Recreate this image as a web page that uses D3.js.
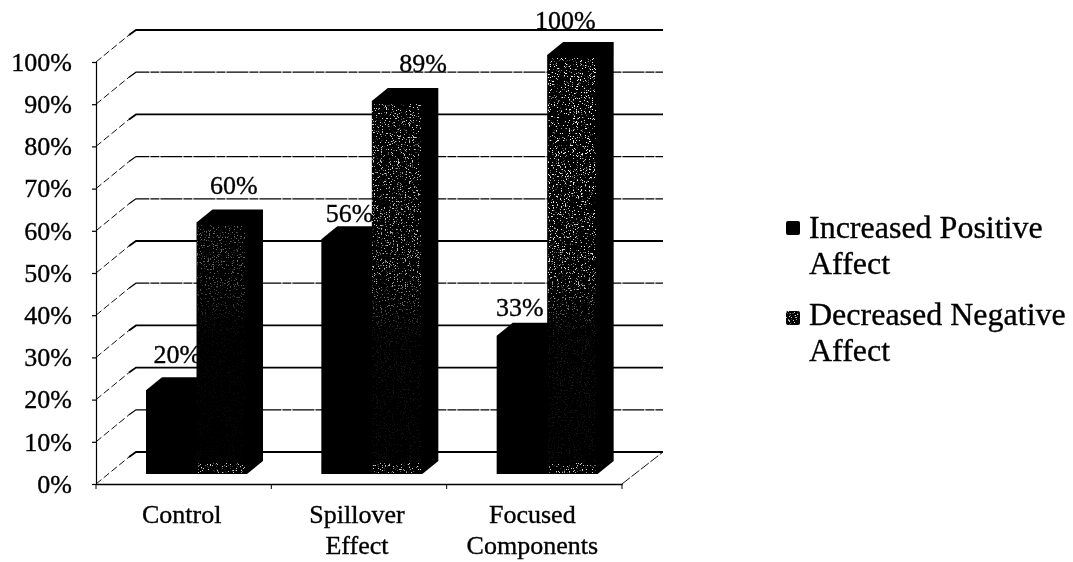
<!DOCTYPE html>
<html><head><meta charset="utf-8">
<script src="https://cdn.jsdelivr.net/npm/d3@7/dist/d3.min.js"></script>
<style>html,body{margin:0;padding:0;background:#fff}svg{display:block;filter:blur(0.35px)}text{font-family:"Liberation Serif",serif;fill:#000;stroke:#000;stroke-width:0.35px}</style>
</head><body><svg id="c" width="1073" height="562"></svg>
<script>
const categories = ["Control", "Spillover Effect", "Focused Components"];
const categoryLines = [["Control"], ["Spillover", "Effect"], ["Focused", "Components"]];
const seriesNames = ["Increased Positive Affect", "Decreased Negative Affect"];
const increasedPositive = [20, 56, 33];
const decreasedNegative = [60, 89, 100];
const yTicks = [0, 10, 20, 30, 40, 50, 60, 70, 80, 90, 100];
const solidGrid = [0, 20, 30, 50, 80, 100];

const svg = d3.select("#c");
const depthX = 41, depthY = 32;
const barDX = 16, barDY = 13;
const y = d3.scaleLinear().domain([0, 100]).range([484, 62]);
const barY = d3.scaleLinear().domain([0, 100]).range([474, 55]);
const x = d3.scaleBand().domain(categories).range([96, 622]);
const inner = d3.scaleBand().domain([0, 1]).range([50, 151]);

const defs = svg.append("defs");
const f = defs.append("filter").attr("id", "speck").attr("x", 0).attr("y", 0).attr("width", 1).attr("height", 1);
f.append("feTurbulence").attr("type", "fractalNoise").attr("baseFrequency", 0.75).attr("numOctaves", 2).attr("seed", 7).attr("result", "n");
f.append("feColorMatrix").attr("in", "n").attr("type", "matrix")
  .attr("values", "0 0 0 0 1  0 0 0 0 1  0 0 0 0 1  9 9 0 0 -10.4");
const grad = defs.append("linearGradient").attr("id", "fade").attr("gradientUnits", "userSpaceOnUse")
  .attr("x1", 0).attr("x2", 0).attr("y1", 60).attr("y2", 474);
[[0, 1], [0.52, 0.85], [0.66, 0.12], [1, 0.08]].forEach(([o, a]) =>
  grad.append("stop").attr("offset", o).attr("stop-color", "#fff").attr("stop-opacity", a));
defs.append("mask").attr("id", "fadeMask").attr("maskUnits", "userSpaceOnUse")
  .attr("x", 0).attr("y", 0).attr("width", 1073).attr("height", 562)
  .append("rect").attr("width", 1073).attr("height", 562).attr("fill", "url(#fade)");

// back wall gridlines and side wall
yTicks.forEach(t => {
  const solid = solidGrid.includes(t);
  const py = y(t);
  svg.append("line").attr("x1", 96).attr("y1", py).attr("x2", 96 + depthX - 8).attr("y2", py - depthY + 5)
    .attr("stroke", "#111").attr("stroke-width", 1).attr("stroke-dasharray", "7 3");
  svg.append("path").attr("d", `M${96 + depthX - 8},${py - depthY + 5}L${96 + depthX - 1},${py - depthY}L${622 + depthX},${py - depthY}`)
    .attr("fill", "none").attr("stroke", "#000").attr("stroke-width", solid ? 1.8 : 1.2).attr("stroke-dasharray", solid ? null : "22 1 9 1");
});
svg.append("line").attr("x1", 622).attr("y1", y(0)).attr("x2", 622 + depthX).attr("y2", y(0) - depthY)
  .attr("stroke", "#111").attr("stroke-width", 1).attr("stroke-dasharray", "10 2");

// y axis
const yAxis = svg.append("g").attr("transform", "translate(96,0)")
  .call(d3.axisLeft(y).tickValues(yTicks).tickFormat(d => d + "%").tickSize(4).tickPadding(20));
yAxis.selectAll("text").attr("font-size", 26).style("font-family", '"Liberation Serif",serif');
yAxis.selectAll("line,path").attr("stroke", "#000").attr("stroke-width", 1.2);

// x axis
const xAxis = svg.append("g").attr("transform", "translate(0,484)")
  .call(d3.axisBottom(x).tickSize(0).tickFormat(""));
xAxis.select("path").attr("stroke", "#000").attr("stroke-width", 1.6);
[...categories.map(c => x(c)), 622].forEach(v =>
  svg.append("line").attr("x1", v).attr("x2", v).attr("y1", 484).attr("y2", 489).attr("stroke", "#000"));

const barPath = (x0, w, v) => {
  const top = barY(v), bot = barY(0), x1 = x0 + w;
  return `M${x0},${bot}L${x0},${top}L${x0 + barDX},${top - barDY}L${x1 + barDX},${top - barDY}L${x1 + barDX},${bot - barDY}L${x1},${bot}Z`;
};
const bw = inner.bandwidth();

// series 1 bars
svg.append("g").selectAll("path").data(categories).join("path")
  .attr("d", (c, i) => barPath(x(c) + inner(0), bw, increasedPositive[i])).attr("fill", "#000");

// series 1 labels sit under series 2 bars
const nudge1 = [[6, 0], [3, 10], [-2, 7]], nudge2 = [[12, 0], [26, 0], [-7, 3]];
const label = (vals, s, nudge) => svg.append("g").selectAll("text").data(categories).join("text")
  .attr("x", (c, i) => x(c) + inner(s) + bw / 2 + nudge[i][0])
  .attr("y", (c, i) => barY(vals[i]) - barDY - 14 + (s ? -2 : 0) + nudge[i][1])
  .attr("text-anchor", "middle").attr("font-size", 26)
  .text((c, i) => vals[i] + "%");
label(increasedPositive, 0, nudge1);

// series 2 bars
svg.append("g").selectAll("path").data(categories).join("path")
  .attr("d", (c, i) => barPath(x(c) + inner(1), bw, decreasedNegative[i])).attr("fill", "#000");
label(decreasedNegative, 1, nudge2);

const speckOpacity = [0.45, 0.85, 1];
svg.append("g").attr("mask", "url(#fadeMask)").selectAll("rect").data(categories).join("rect")
  .attr("x", c => x(c) + inner(1) + 1)
  .attr("y", (c, i) => barY(decreasedNegative[i]) + 3)
  .attr("width", bw - 3)
  .attr("height", (c, i) => barY(0) - barY(decreasedNegative[i]) - 3)
  .attr("filter", "url(#speck)").attr("opacity", (c, i) => speckOpacity[i]);
// speckled floor strip at the foot of each front face
svg.append("g").selectAll("rect").data(categories).join("rect")
  .attr("x", c => x(c) + inner(1) + 2)
  .attr("y", barY(0) - 11).attr("width", bw - 4).attr("height", 10)
  .attr("filter", "url(#speck)").attr("opacity", 0.8);

// category labels
const cat = svg.append("g").selectAll("text").data(categories).join("text")
  .attr("x", c => x(c) + x.bandwidth() / 2 - 2).attr("y", 523)
  .attr("text-anchor", "middle").attr("font-size", 26);
cat.selectAll("tspan").data((c, i) => categoryLines[i]).join("tspan")
  .attr("x", function () { return this.parentNode.getAttribute("x"); })
  .attr("dy", (d, i) => i ? 31 : 0).text(d => d);

// legend
const legendLines = [["Increased Positive", "Affect"], ["Decreased Negative", "Affect"]];
const leg = svg.append("g").selectAll("g").data(seriesNames).join("g")
  .attr("transform", (d, i) => `translate(0,${i ? 325 : 238})`);
leg.append("rect").attr("x", 786).attr("y", (d, i) => i ? -14 : -17).attr("width", 14).attr("height", 14)
  .attr("rx", 2).attr("fill", "#000");
leg.filter((d, i) => i === 1).append("rect").attr("x", 786).attr("y", -14).attr("width", 14).attr("height", 14)
  .attr("filter", "url(#speck)").attr("opacity", 0.8);
leg.append("text").attr("font-size", 32).selectAll("tspan").data((d, i) => legendLines[i]).join("tspan")
  .attr("x", 809).attr("dy", (d, i) => i ? 36 : 0).text(d => d);
</script></body></html>
